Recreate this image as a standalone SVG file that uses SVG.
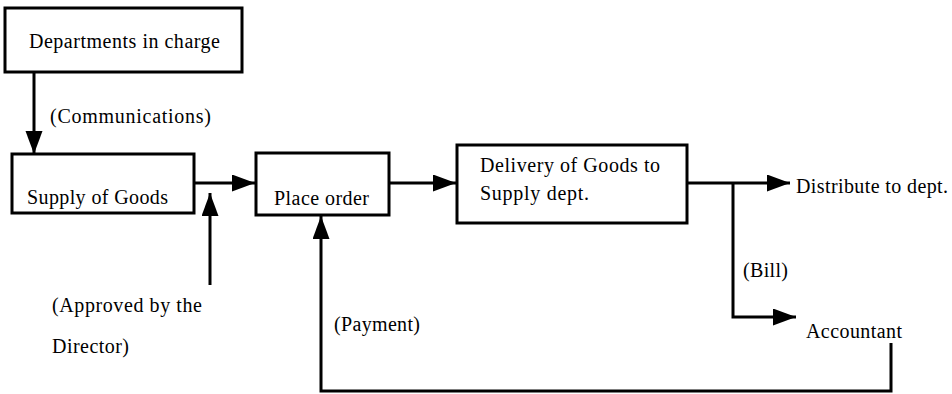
<svg xmlns="http://www.w3.org/2000/svg" width="952" height="394" viewBox="0 0 952 394">
  <style>
    .box { fill: #ffffff; stroke: #000000; stroke-width: 3; }
    .lbl { font-family: "Liberation Serif", "Times New Roman", serif; font-size: 20px; fill: #000000; }
    .wire { fill: none; stroke: #000000; stroke-width: 3; }
  </style>
  <defs>
    <marker id="arrow" markerUnits="userSpaceOnUse" markerWidth="24" markerHeight="18" refX="23" refY="8.5" orient="auto">
      <path d="M0,0 L23,8.5 L0,17 Z" fill="#000000"/>
    </marker>
  </defs>

  <g id="dept-in-charge">
    <rect class="box" x="5" y="8" width="237" height="64"/>
    <text class="lbl" x="29" y="48" textLength="191">Departments in charge</text>
  </g>

  <g id="supply-of-goods">
    <rect class="box" x="12" y="154" width="182" height="59"/>
    <text class="lbl" x="27" y="204" textLength="141">Supply of Goods</text>
  </g>

  <g id="place-order">
    <rect class="box" x="256" y="153" width="133" height="62"/>
    <text class="lbl" x="274" y="205" textLength="95">Place order</text>
  </g>

  <g id="delivery">
    <rect class="box" x="457" y="145" width="230" height="78"/>
    <text class="lbl" x="480" y="172" textLength="180">Delivery of Goods to</text>
    <text class="lbl" x="480" y="200" textLength="109">Supply dept.</text>
  </g>

  <g id="distribute">
    <text class="lbl" x="796" y="193" textLength="152">Distribute to dept.</text>
  </g>

  <g id="accountant">
    <text class="lbl" x="806" y="338" textLength="96">Accountant</text>
  </g>

  <g id="labels">
    <text class="lbl" x="50" y="123" textLength="161">(Communications)</text>
    <text class="lbl" x="52" y="312" textLength="150">(Approved by the</text>
    <text class="lbl" x="52" y="353" textLength="77">Director)</text>
    <text class="lbl" x="334" y="331" textLength="86">(Payment)</text>
    <text class="lbl" x="743" y="277" textLength="45">(Bill)</text>
  </g>

  <g id="connectors">
    <line class="wire" x1="34" y1="72" x2="34" y2="154" marker-end="url(#arrow)"/>
    <line class="wire" x1="194" y1="183" x2="255" y2="183" marker-end="url(#arrow)"/>
    <line class="wire" x1="210" y1="285" x2="210" y2="193" marker-end="url(#arrow)"/>
    <line class="wire" x1="389" y1="183" x2="456" y2="183" marker-end="url(#arrow)"/>
    <line class="wire" x1="687" y1="183" x2="790" y2="183" marker-end="url(#arrow)"/>
    <polyline class="wire" points="733,183 733,317 796,317" marker-end="url(#arrow)"/>
    <polyline class="wire" points="891,343 891,391 321,391 321,216" marker-end="url(#arrow)"/>
  </g>
</svg>
